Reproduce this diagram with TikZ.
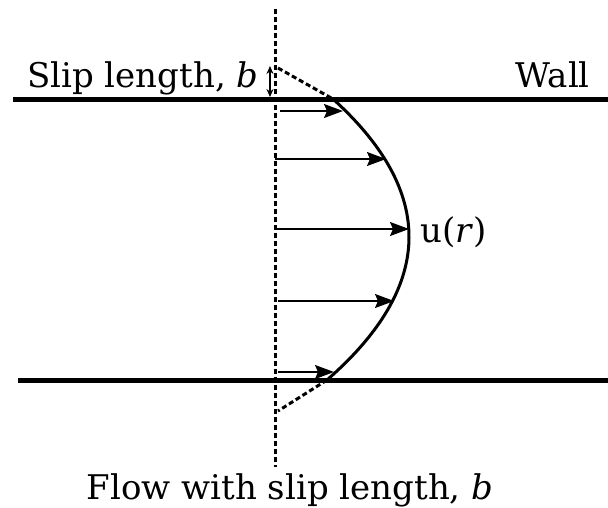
\documentclass[tikz,border=0pt]{standalone}
\usepackage{fontspec}
\setmainfont{DejaVu Serif}
\usetikzlibrary{arrows.meta}
\begin{document}
\begin{tikzpicture}[x=1pt,y=-1pt,
  wall/.style={line width=5pt},
  axisline/.style={line width=3pt,dash pattern=on 5pt off 3pt},
  slipline/.style={line width=3pt,dash pattern=on 5pt off 3pt},
  velarrow/.style={line width=1.6pt,-{Stealth[length=19pt,width=14pt,inset=3pt]}},
  profile/.style={line width=3pt},
  lbl/.style={inner sep=0pt,font=\fontsize{34}{40}\selectfont}]
\useasboundingbox (0,0) rectangle (608,507);
% walls
\coordinate (tw1) at (13,99);  \coordinate (tw2) at (608,99);
\coordinate (bw1) at (18,380); \coordinate (bw2) at (608,380);
\draw[wall] (tw1) -- (tw2);
\draw[wall] (bw1) -- (bw2);
% centre axis
\coordinate (ax1) at (275,9); \coordinate (ax2) at (275,467);
\draw[axisline] (ax1) -- (ax2);
% slip extrapolation
\coordinate (st) at (278,68);  \coordinate (pt) at (333,99);
\coordinate (sb) at (278,411); \coordinate (pb) at (327,380);
\draw[slipline] (st) -- (pt);
\draw[slipline] (pb) -- (sb);
% slip length arrow
\coordinate (sa1) at (270,66); \coordinate (sa2) at (270,97);
\draw[line width=1.5pt,{Stealth[length=8pt,width=7pt]}-{Stealth[length=8pt,width=7pt]}] (sa1) -- (sa2);
% profile
\draw[profile] plot[domain=99:380,samples=80] ({409-(0.0632456*(\x-236.8))^2},\x);
% velocity arrows
\coordinate (a1s) at (280,111); \coordinate (a1e) at (343,111);
\coordinate (a2s) at (275,159); \coordinate (a2e) at (386,159);
\coordinate (a3s) at (275,229); \coordinate (a3e) at (409,229);
\coordinate (a4s) at (278,301); \coordinate (a4e) at (394,301);
\coordinate (a5s) at (278,372); \coordinate (a5e) at (334,372);
\foreach \i in {1,...,5} \draw[velarrow] (a\i s) -- (a\i e);
% labels
\node[lbl,anchor=base west] (slip) at (27,87) {Slip length, \textit{b}};
\node[lbl,anchor=base east] (wall) at (590,87) {Wall};
\node[lbl,anchor=base west] (u) at (420,242) {u(\textit{r})};
\node[lbl,anchor=base] (cap) at (290,499) {Flow with slip length, \textit{b}};
\end{tikzpicture}
\end{document}
